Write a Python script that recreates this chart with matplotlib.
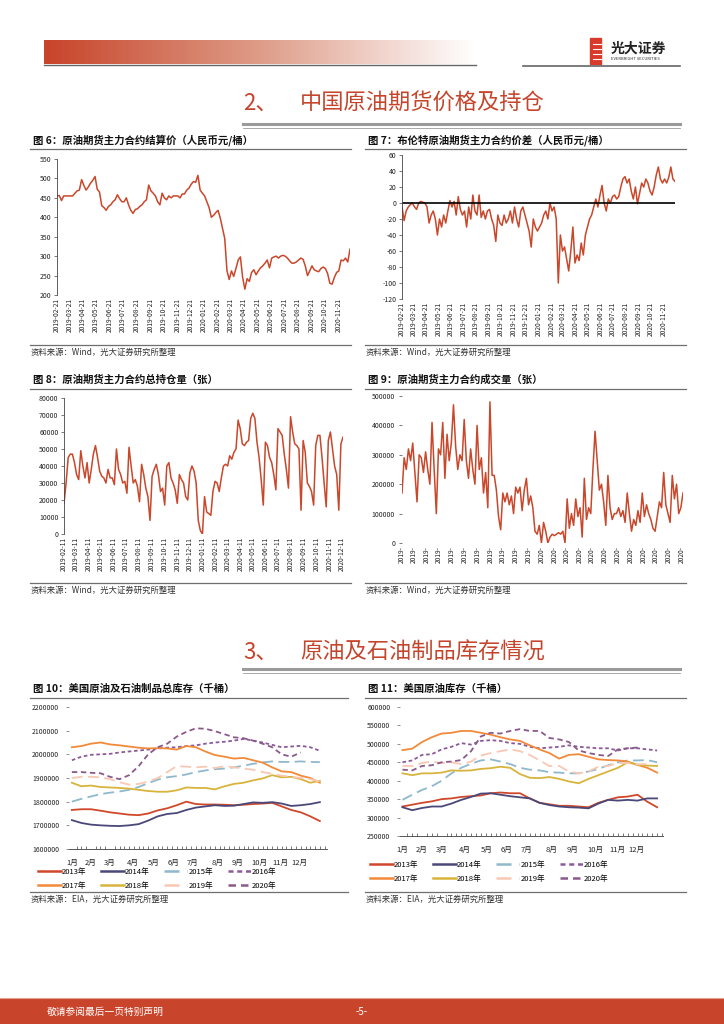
import numpy as np
import pandas as pd
import matplotlib
matplotlib.use('Agg')
import matplotlib.pyplot as plt
from matplotlib.lines import Line2D
from matplotlib.patches import Rectangle
from matplotlib.colors import LinearSegmentedColormap

plt.rcParams['font.family'] = ['Noto Sans CJK SC', 'DejaVu Sans']
plt.rcParams['axes.unicode_minus'] = False

W, H = 724, 1024
RED = '#C9472B'
SEC = '#C4452C'
GRAY = '#808080'

# ---------------- data ----------------
# fig 6: settlement price, 2019-02-21 .. 2020-12-17
settle = [455, 456, 443, 455, 455, 455, 455, 455, 462, 468, 470, 497,
          482, 470, 478, 488, 495, 505, 472, 465, 430, 425, 418, 428,
          432, 440, 445, 458, 448, 440, 440, 450, 432, 418, 410, 420,
          422, 428, 432, 440, 445, 483, 468, 462, 455, 440, 432, 462,
          450, 445, 455, 450, 455, 455, 455, 450, 460, 460, 470, 475,
          485, 492, 490, 508, 470, 462, 455, 440, 425, 400, 405, 412,
          418, 398, 372, 345, 262, 240, 262, 248, 268, 290, 298, 245,
          215, 242, 235, 258, 265, 252, 262, 270, 275, 282, 290, 270,
          295, 298, 300, 295, 300, 302, 300, 295, 288, 282, 282, 285,
          290, 295, 292, 275, 250, 262, 275, 265, 262, 260, 268, 272,
          268, 255, 230, 228, 245, 258, 262, 290, 288, 295, 285, 318]

# fig 7: spread vs Brent, 2019-02-21 .. 2020-12-19
spread = [-5, -22, -10, -5, -2, 0, -5, -8, 0, 2, 1, 0,
          -5, -25, -15, -10, -20, -40, -20, -30, -15, -25, -10, 3,
          -5, 2, -15, 8, -8, -15, -10, -30, -5, -20, 10, -10,
          -15, 10, -18, -10, -20, -10, -8, -20, -28, -48, -15, -25,
          -28, -15, -25, -20, -10, -25, -5, -20, -30, -10, -5, -15,
          -25, -35, -55, -20, -30, -35, -30, -25, -15, -10, -20, 0,
          -10, -5, -20, -100, -40, -60, -55, -70, -85, -60, -30, -75,
          -65, -72, -50, -65, -40, -30, -20, -15, -5, 5, -5, 10,
          22, 0, -10, 5, 0, 8, 10, 5, 8, 20, 30, 33,
          25, 30, 15, 5, 20, -1, 12, 25, 20, 30, 25, 15,
          10, 20, 35, 45, 30, 25, 30, 25, 32, 45, 30, 27]

# fig 8: open interest, 2019-02-11 .. 2020-12-14
open_int = [18000, 30000, 45000, 47000, 47000, 42000, 35000, 32000, 49000, 40000, 33000, 42000,
            30000, 38000, 47000, 52000, 45000, 37000, 34000, 33000, 30000, 38000, 33000, 33000,
            29000, 50000, 38000, 35000, 30000, 31000, 24000, 51000, 40000, 30000, 32000, 28000,
            19000, 41000, 35000, 27000, 22000, 8000, 34000, 38000, 41000, 35000, 25000, 27000,
            17000, 40000, 42000, 33000, 30000, 26000, 18000, 35000, 32000, 30000, 22000, 20000,
            36000, 40000, 37000, 30000, 8000, 2000, 0, 22000, 13000, 12000, 11000, 25000,
            31000, 30000, 25000, 33000, 40000, 41000, 40000, 46000, 44000, 48000, 50000, 67000,
            62000, 53000, 52000, 54000, 55000, 68000, 71000, 68000, 54000, 45000, 32000, 17000,
            54000, 52000, 45000, 42000, 35000, 26000, 62000, 60000, 58000, 47000, 38000, 27000,
            69000, 60000, 53000, 52000, 50000, 14000, 55000, 48000, 30000, 28000, 25000, 17000,
            52000, 58000, 58000, 45000, 30000, 16000, 55000, 60000, 50000, 40000, 35000, 14000,
            53000, 57000]

# fig 9: trading volume, 2019-02-11 .. 2020-12-14
volume = [170000, 290000, 250000, 320000, 280000, 340000, 240000, 140000, 300000, 290000, 240000, 310000,
          250000, 200000, 410000, 250000, 100000, 320000, 300000, 410000, 220000, 370000, 280000, 340000,
          470000, 330000, 250000, 300000, 280000, 420000, 280000, 220000, 320000, 250000, 200000, 400000,
          250000, 290000, 170000, 240000, 120000, 480000, 230000, 230000, 180000, 90000, 45000, 170000,
          140000, 170000, 130000, 160000, 100000, 190000, 170000, 190000, 110000, 180000, 220000, 130000,
          160000, 120000, 40000, 30000, 60000, 0, 70000, 40000, 0, 20000, 30000, 25000,
          30000, 35000, 30000, 40000, 0, 150000, 50000, 100000, 60000, 150000, 90000, 120000,
          20000, 220000, 80000, 120000, 100000, 250000, 380000, 280000, 180000, 200000, 140000, 60000,
          230000, 120000, 80000, 100000, 100000, 120000, 90000, 110000, 70000, 170000, 100000, 40000,
          80000, 60000, 110000, 70000, 170000, 90000, 130000, 100000, 80000, 50000, 40000, 90000,
          140000, 120000, 240000, 130000, 100000, 70000, 230000, 150000, 200000, 100000, 120000, 170000]

months = ['1月', '2月', '3月', '4月', '5月', '6月', '7月', '8月', '9月', '10月', '11月', '12月']
month_week = [0, 4, 8, 12.8, 17.2, 21.3, 25.4, 30.5, 34.8, 39.4, 43.8, 47.8]
years = ['2013年', '2014年', '2015年', '2016年', '2017年', '2018年', '2019年', '2020年']

# fig 10: total crude + products stocks, every 2 weeks
tot_2013 = [1765000, 1768000, 1768000, 1762000, 1755000, 1750000, 1745000, 1743000, 1750000, 1763000,
            1772000, 1785000, 1800000, 1790000, 1788000, 1788000, 1787000, 1785000, 1787000, 1790000,
            1792000, 1795000, 1780000, 1765000, 1755000, 1738000, 1718000]
tot_2014 = [1722000, 1710000, 1703000, 1700000, 1698000, 1697000, 1700000, 1705000, 1720000, 1738000,
            1748000, 1752000, 1765000, 1775000, 1780000, 1785000, 1782000, 1783000, 1790000, 1797000,
            1795000, 1798000, 1792000, 1782000, 1785000, 1790000, 1798000]
tot_2015 = [1800000, 1812000, 1822000, 1832000, 1838000, 1843000, 1850000, 1862000, 1878000, 1893000,
            1903000, 1908000, 1915000, 1925000, 1932000, 1937000, 1940000, 1945000, 1952000, 1960000,
            1966000, 1970000, 1968000, 1968000, 1970000, 1968000, 1967000]
tot_2016 = [1975000, 1990000, 1998000, 2000000, 2002000, 2008000, 2012000, 2016000, 2020000, 2025000,
            2028000, 2030000, 2035000, 2038000, 2045000, 2050000, 2053000, 2058000, 2065000, 2058000,
            2050000, 2040000, 2030000, 2033000, 2036000, 2030000, 2015000]
tot_2017 = [2030000, 2035000, 2045000, 2050000, 2042000, 2038000, 2033000, 2028000, 2025000, 2026000,
            2025000, 2020000, 2035000, 2030000, 2012000, 1997000, 1990000, 1982000, 1985000, 1975000,
            1965000, 1945000, 1928000, 1925000, 1910000, 1900000, 1880000]
tot_2018 = [1880000, 1865000, 1868000, 1862000, 1860000, 1858000, 1855000, 1850000, 1845000, 1842000,
            1842000, 1848000, 1860000, 1858000, 1858000, 1852000, 1865000, 1875000, 1880000, 1890000,
            1898000, 1912000, 1903000, 1905000, 1895000, 1880000, 1888000]
tot_2019 = [1900000, 1905000, 1905000, 1903000, 1895000, 1882000, 1872000, 1875000, 1885000, 1900000,
            1925000, 1950000, 1948000, 1945000, 1948000, 1942000, 1950000, 1945000, 1940000, 1935000,
            1925000, 1918000, 1910000, 1905000, 1900000, 1895000, 1885000]
tot_2020 = [1925000, 1925000, 1922000, 1920000, 1905000, 1895000, 1912000, 1950000, 2000000, 2030000,
            2045000, 2075000, 2095000, 2110000, 2108000, 2098000, 2085000, 2072000, 2068000, 2058000,
            2045000, 2030000, 2000000, 1990000, 2008000]

# fig 11: crude stocks, every 2 weeks
crd_2013 = [330000, 335000, 340000, 344000, 350000, 352000, 356000, 358000, 360000, 366000,
            368000, 366000, 366000, 352000, 340000, 336000, 332000, 332000, 330000, 328000,
            340000, 348000, 355000, 357000, 362000, 343000, 328000]
crd_2014 = [328000, 320000, 326000, 330000, 330000, 338000, 348000, 356000, 365000, 366000,
            362000, 358000, 355000, 352000, 340000, 334000, 330000, 328000, 327000, 325000,
            338000, 348000, 346000, 348000, 346000, 352000, 352000]
crd_2015 = [348000, 362000, 375000, 385000, 400000, 420000, 435000, 446000, 455000, 458000,
            452000, 445000, 435000, 430000, 428000, 423000, 422000, 420000, 420000, 425000,
            432000, 442000, 450000, 455000, 455000, 456000, 450000]
crd_2016 = [450000, 455000, 470000, 472000, 485000, 492000, 502000, 498000, 508000, 510000,
            508000, 502000, 500000, 492000, 488000, 490000, 492000, 496000, 492000, 490000,
            488000, 488000, 482000, 488000, 488000, 485000, 482000]
crd_2017 = [483000, 487000, 505000, 518000, 528000, 530000, 535000, 535000, 530000, 525000,
            518000, 512000, 508000, 496000, 485000, 475000, 460000, 470000, 472000, 465000,
            458000, 456000, 455000, 452000, 443000, 435000, 422000]
crd_2018 = [420000, 415000, 420000, 420000, 422000, 428000, 427000, 428000, 432000, 434000,
            438000, 435000, 418000, 408000, 407000, 410000, 405000, 398000, 393000, 405000,
            415000, 425000, 435000, 450000, 443000, 441000, 440000]
crd_2019 = [440000, 440000, 448000, 452000, 448000, 450000, 445000, 452000, 468000, 475000,
            480000, 485000, 480000, 470000, 455000, 440000, 440000, 425000, 420000, 425000,
            438000, 440000, 448000, 448000, 445000, 445000]
crd_2020 = [430000, 428000, 440000, 442000, 450000, 452000, 456000, 480000, 520000, 530000,
            528000, 535000, 540000, 535000, 535000, 516000, 512000, 505000, 482000, 475000,
            470000, 467000, 485000, 488000, 490000]

year_styles = [
    dict(color='#D0482A', ls='-'),
    dict(color='#4A4878', ls='-'),
    dict(color='#8FB8CC', ls=(0, (6, 3))),
    dict(color='#8C5A9A', ls=(0, (2, 1.5))),
    dict(color='#F28A3A', ls='-'),
    dict(color='#D8B43C', ls='-'),
    dict(color='#F8C8B4', ls=(0, (6, 3))),
    dict(color='#8A5A8A', ls=(0, (3, 2))),
]

# ---------------- helpers ----------------
fig = plt.figure(figsize=(W / 100, H / 100), dpi=100)


def box(x0, y0, x1, y1):
    return fig.add_axes([x0 / W, 1 - y1 / H, (x1 - x0) / W, (y1 - y0) / H])


def hline(x0, x1, y, lw=0.8, color=GRAY):
    fig.add_artist(Line2D([x0 / W, x1 / W], [1 - y / H, 1 - y / H], lw=lw, color=color))


def put(x, y, s, **kw):
    kw.setdefault('va', 'center')
    fig.text(x / W, 1 - y / H, s, **kw)


def style(ax, left=True, ypad=2):
    for s in ['top', 'right', 'bottom']:
        ax.spines[s].set_visible(False)
    ax.spines['left'].set_visible(left)
    ax.spines['left'].set_linewidth(0.6)
    ax.spines['left'].set_color('#444444')
    ax.patch.set_alpha(0)
    ax.tick_params(axis='y', labelsize=5, length=2, width=0.5, pad=ypad, colors='#444444', labelcolor='#222222')
    ax.tick_params(axis='x', labelsize=4.8, length=0, pad=2, labelcolor='#222222')


def chart_frame(x0, x1, ytitle, yline, ysrc_line, title, src):
    put(x0 + 3, ytitle, title, fontsize=7.5, fontweight='bold', color='#111111')
    hline(x0, x1, yline, lw=0.9, color='#6f6f6f')
    hline(x0, x1, ysrc_line, lw=0.9, color='#6f6f6f')
    put(x0 + 1, ysrc_line + 7, src, fontsize=6, color='#333333')


def month_ticks(start, n):
    t = [pd.Timestamp(start) + pd.DateOffset(months=i) for i in range(n)]
    return t, [d.strftime('%Y-%m-%d') for d in t]


# ---------------- header ----------------
bar = box(44, 40, 476, 64)
cmap = LinearSegmentedColormap.from_list('hdr', ['#C8442A', '#DE9C88', '#FFFFFF'])
bar.imshow(np.linspace(0, 1, 300)[None, :], aspect='auto', cmap=cmap)
bar.axis('off')
hline(44, 476, 65, lw=1.0, color='#666666')
hline(523, 680, 66, lw=1.2, color='#666666')
fig.add_artist(Rectangle((590 / W, 1 - 64 / H), 11 / W, 26 / H, color='#D8392B'))
for yy in [44, 49, 54, 59]:
    hline(593, 601, yy, lw=0.8, color='white')
put(611, 49, '光大证券', fontsize=10, fontweight='bold', color='#222222')
put(611, 59, 'EVERBRIGHT SECURITIES', fontsize=3, color='#333333')

# ---------------- section 2 ----------------
put(243, 103, '2、', fontsize=16, color=SEC)
put(300, 103, '中国原油期货价格及持仓', fontsize=16, color=SEC)
hline(243, 680, 123.5, lw=2.2, color='#9a9a9a')
hline(243, 680, 127.5, lw=0.6, color='#9a9a9a')

src_wind = '资料来源：Wind，光大证券研究所整理'

# fig 6
chart_frame(30, 351, 140, 149, 345, '图 6：原油期货主力合约结算价（人民币元/桶）', src_wind)
ax6 = box(57, 159, 350, 295)
d6 = pd.date_range('2019-02-21', '2020-12-17', periods=len(settle))
ax6.plot(d6, settle, color=RED, lw=1.1)
ax6.set_xlim(d6[0], d6[-1])
ax6.set_ylim(200, 550)
ax6.set_yticks(range(200, 551, 50), [str(v) for v in range(200, 551, 50)])
t, lab = month_ticks('2019-02-21', 22)
ax6.set_xticks(t, lab, rotation=90)
style(ax6)

# fig 7
chart_frame(365, 686, 140, 149, 345, '图 7：布伦特原油期货主力合约价差（人民币元/桶）', src_wind)
ax7 = box(402, 155, 675, 299)
d7 = pd.date_range('2019-02-21', '2020-12-19', periods=len(spread))
ax7.plot(d7, spread, color=RED, lw=1.1)
ax7.axhline(0, color='black', lw=1.2)
ax7.set_xlim(d7[0], d7[-1])
ax7.set_ylim(-120, 60)
ax7.set_yticks(range(-120, 61, 20), [str(v) for v in range(-120, 61, 20)])
ax7.set_xticks(t, lab, rotation=90)
style(ax7)

# fig 8
chart_frame(30, 351, 380, 389, 583, '图 8：原油期货主力合约总持仓量（张）', src_wind)
ax8 = box(64, 398, 343, 534)
d8 = pd.date_range('2019-02-11', '2020-12-14', periods=len(open_int))
ax8.plot(d8, open_int, color=RED, lw=1.1)
ax8.set_xlim(d8[0], d8[-1])
ax8.set_ylim(0, 80000)
ax8.set_yticks(range(0, 80001, 10000), [str(v) for v in range(0, 80001, 10000)])
t8, lab8 = month_ticks('2019-02-11', 23)
ax8.set_xticks(t8, lab8, rotation=90)
style(ax8)

# fig 9
chart_frame(365, 686, 380, 389, 583, '图 9：原油期货主力合约成交量（张）', src_wind)
ax9 = box(402, 396, 683, 543)
d9 = pd.date_range('2019-02-11', '2020-12-14', periods=len(volume))
ax9.plot(d9, volume, color=RED, lw=1.1)
ax9.set_xlim(d9[0], d9[-1])
ax9.set_ylim(0, 500000)
ax9.set_yticks(range(0, 500001, 100000), [str(v) for v in range(0, 500001, 100000)])
ax9.set_xticks(t8, [d.strftime('%Y-') for d in t8], rotation=90)
style(ax9, left=False, ypad=3)

# ---------------- section 3 ----------------
put(243, 652, '3、', fontsize=16, color=SEC)
put(300, 652, '原油及石油制品库存情况', fontsize=16, color=SEC)
hline(243, 680, 668.5, lw=2.2, color='#9a9a9a')
hline(243, 680, 672.5, lw=0.6, color='#9a9a9a')

src_eia = '资料来源：EIA，光大证券研究所整理'


def seasonal(ax, series, ylo, yhi, ystep, xlim, legend_xy):
    handles = []
    for vals, st, yr in zip(series, year_styles, years):
        x = np.arange(len(vals)) * 2
        h, = ax.plot(x, vals, lw=1.3, label=yr, **st)
        handles.append(h)
    ax.set_xlim(*xlim)
    ax.set_ylim(ylo, yhi)
    ax.set_yticks(range(ylo, yhi + 1, ystep), [str(v) for v in range(ylo, yhi + 1, ystep)])
    ax.set_xticks(np.arange(54), minor=True)
    ax.set_xticks(month_week, months)
    for s in ['top', 'right', 'left']:
        ax.spines[s].set_visible(False)
    ax.spines['bottom'].set_color('#555555')
    ax.spines['bottom'].set_linewidth(0.7)
    ax.patch.set_alpha(0)
    ax.tick_params(axis='y', labelsize=5, length=2, width=0.5, pad=5, colors='#666666', labelcolor='#222222')
    ax.tick_params(axis='x', which='major', labelsize=5.5, length=0, pad=7, labelcolor='#222222')
    ax.tick_params(axis='x', which='minor', direction='in', length=2.5, width=0.5, color='#444444')
    order = [0, 4, 1, 5, 2, 6, 3, 7]
    leg = ax.legend([handles[i] for i in order], [years[i] for i in order], ncol=4,
                    loc='upper left', bbox_to_anchor=(legend_xy[0] / W, 1 - legend_xy[1] / H),
                    bbox_transform=fig.transFigure, frameon=False, fontsize=5.5,
                    handlelength=3.0, handletextpad=0.15, columnspacing=1.9, labelspacing=0.75,
                    borderaxespad=0, borderpad=0)
    for ln in leg.get_lines():
        ln.set_linewidth(1.8)


# fig 10
chart_frame(30, 348, 689, 698, 892, '图 10：美国原油及石油制品总库存（千桶）', src_eia)
ax10 = box(69, 707, 327, 849)
seasonal(ax10, [tot_2013, tot_2014, tot_2015, tot_2016, tot_2017, tot_2018, tot_2019, tot_2020],
         1600000, 2200000, 100000, (-0.6, 53.5), (38, 868))

# fig 11
chart_frame(365, 686, 689, 698, 892, '图 11：美国原油库存（千桶）', src_eia)
ax11 = box(400, 707, 663, 836)
seasonal(ax11, [crd_2013, crd_2014, crd_2015, crd_2016, crd_2017, crd_2018, crd_2019, crd_2020],
         250000, 600000, 50000, (-0.5, 53.2), (370, 861))

# ---------------- footer ----------------
fig.add_artist(Rectangle((0, 0), 1, 25 / H, color='#C8442A'))
hline(0, W, 998, lw=0.8, color='#E8A090')
put(47, 1012, '敬请参阅最后一页特别声明', fontsize=7, color='white')
put(362, 1012, '-5-', fontsize=7, color='white', ha='center')

fig.savefig('out.png', dpi=100)
